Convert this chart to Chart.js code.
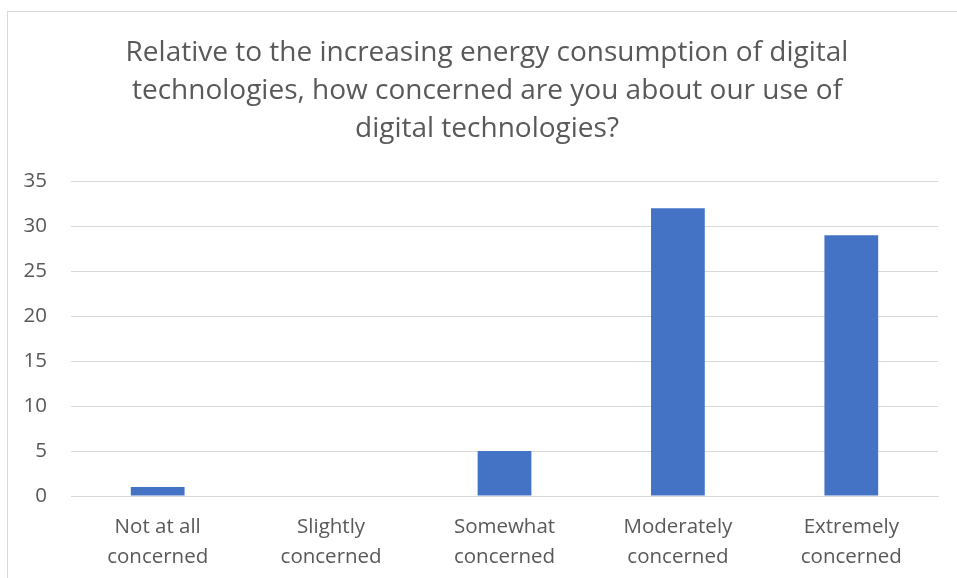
<!DOCTYPE html>
<html>
<head>
<meta charset="utf-8">
<script src="https://cdn.jsdelivr.net/npm/chart.js@4/dist/chart.umd.min.js"></script>
<style>
	html, body { margin: 0; padding: 0; background: #fff; overflow: hidden; }
	#wrap { position: relative; width: 957px; height: 578px; }
	#frame { position: absolute; left: 7px; top: 11px; width: 1000px; height: 1000px; border: 1px solid #d9d9d9; pointer-events: none; }
</style>
</head>
<body>
<div id="wrap">
	<canvas id="BarChart" width="957" height="578"></canvas>
	<div id="frame"></div>
</div>
<script>
const title_lines = [
	"Relative to the increasing energy consumption of digital",
	"technologies, how concerned are you about our use of",
	"digital technologies?"
];
const categories = [
	["Not at all", "concerned"],
	["Slightly", "concerned"],
	["Somewhat", "concerned"],
	["Moderately", "concerned"],
	["Extremely", "concerned"]
];
const responses = [1, 0, 5, 32, 29];
const y_ticks = [0, 5, 10, 15, 20, 25, 30, 35];

const TEXT_COLOR = "#595959";
const GRID_COLOR = "#d9d9d9";
const FONT = "'Open Sans', sans-serif";

// the title sits centred on the outer frame, a bit right of the canvas middle
const shift_title = {
	id: "shift_title",
	afterLayout(chart) {
		chart.titleBlock.left += 36;
	}
};

function draw_chart() {
	const context = document.getElementById("BarChart").getContext("2d");
	new Chart(context, {
		type: "bar",
		data: {
			labels: categories,
			datasets: [{
				label: "Responses",
				data: responses,
				backgroundColor: "#4472c4",
				categoryPercentage: 1,
				barPercentage: 0.31
			}]
		},
		options: {
			responsive: false,
			animation: false,
			layout: { padding: { left: 0, right: 19, top: 0, bottom: 0 } },
			plugins: {
				legend: { display: false },
				tooltip: { enabled: false },
				title: {
					display: true,
					text: title_lines,
					color: TEXT_COLOR,
					font: { family: FONT, size: 28, weight: "normal", lineHeight: 1.36 },
					padding: { top: 34, bottom: 33 }
				}
			},
			scales: {
				x: {
					grid: { display: false, drawTicks: false },
					border: { color: GRID_COLOR, width: 1 },
					ticks: {
						color: TEXT_COLOR,
						font: { family: FONT, size: 20.5, lineHeight: 1.46 },
						padding: 16,
						maxRotation: 0
					},
					afterFit: scale => { scale.height = 82; }
				},
				y: {
					min: 0,
					max: 35,
					afterBuildTicks: scale => { scale.ticks = y_ticks.map(v => ({ value: v })); },
					grid: { color: GRID_COLOR, lineWidth: 1, drawTicks: false },
					border: { display: false },
					ticks: {
						color: TEXT_COLOR,
						font: { family: FONT, size: 20.5 },
						padding: 24
					},
					afterFit: scale => { scale.width = 71; }
				}
			}
		},
		plugins: [shift_title]
	});
}

draw_chart();
</script>
</body>
</html>
